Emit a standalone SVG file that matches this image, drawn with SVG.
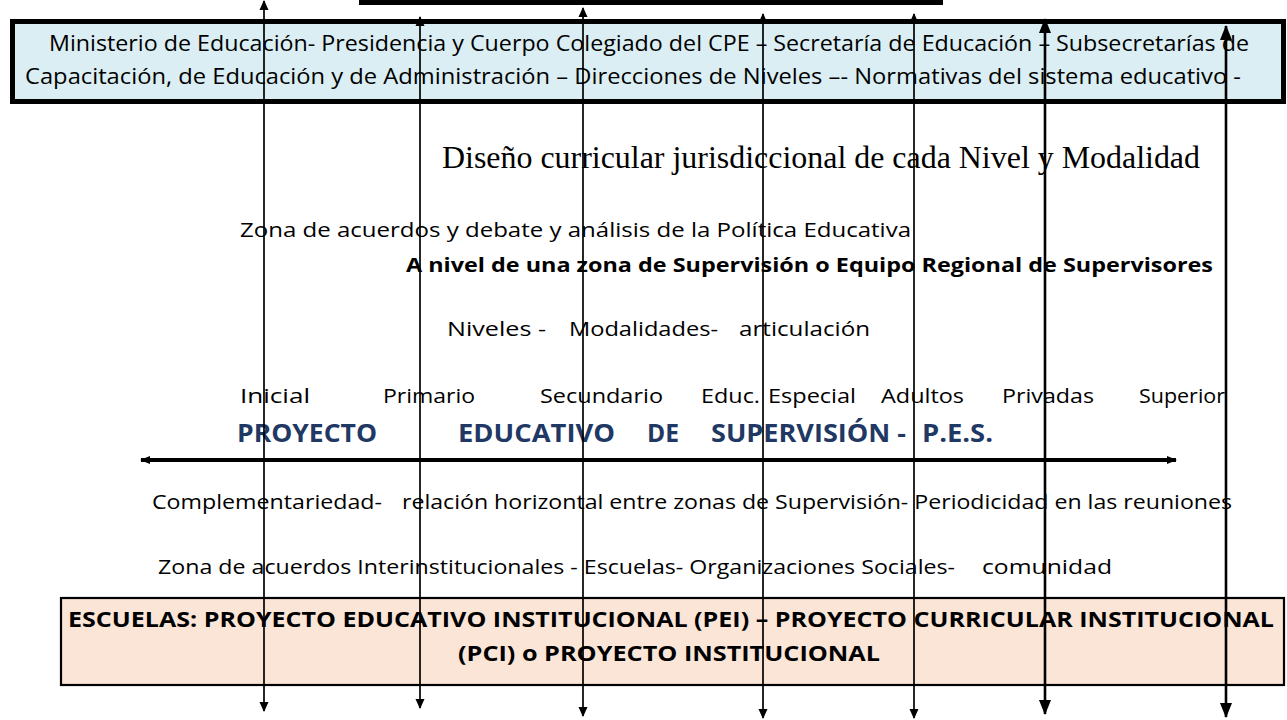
<svg xmlns="http://www.w3.org/2000/svg" width="1287" height="720" viewBox="0 0 1287 720">
<style>
.sans{font-family:"Open Sans","Noto Sans",sans-serif;fill:#000}
.comic{font-family:"Open Sans","Noto Sans",sans-serif;fill:#000;font-size:20px}
.ser{font-family:"Liberation Serif","Times New Roman",serif;fill:#000}
.pes{font-family:"Open Sans","Noto Sans",sans-serif;font-weight:bold;fill:#1F3864;font-size:25px}
.conn{stroke:#000;fill:none}
.thin{stroke-width:1.7}
.thick{stroke-width:2.6}
</style>
<defs>
<marker id="ah" markerUnits="userSpaceOnUse" markerWidth="10" markerHeight="12" refX="9" refY="4.5" orient="auto-start-reverse" viewBox="0 0 10 9">
<path d="M0,0 L10,4.5 L0,9 z" fill="#000"/>
</marker>
<marker id="ahb" markerUnits="userSpaceOnUse" markerWidth="15" markerHeight="13" refX="14" refY="6" orient="auto-start-reverse" viewBox="0 0 15 12">
<path d="M0,0 L15,6 L0,12 z" fill="#000"/>
</marker>
<marker id="ahh" markerUnits="userSpaceOnUse" markerWidth="10" markerHeight="10" refX="9" refY="4" orient="auto-start-reverse" viewBox="0 0 10 8">
<path d="M0,0 L10,4 L0,8 z" fill="#000"/>
</marker>
</defs>
<rect x="359" y="-3" width="584" height="8" fill="#000"/>
<g id="top-box">
<rect x="12.5" y="21.5" width="1271" height="80" fill="#DAEEF3" stroke="#000" stroke-width="5"/>
<text class="sans" x="49" y="51" font-size="21" textLength="1200" lengthAdjust="spacingAndGlyphs">Ministerio de Educación- Presidencia y Cuerpo Colegiado del CPE – Secretaría de Educación – Subsecretarías de</text>
<text class="sans" x="25" y="84" font-size="21" textLength="1216" lengthAdjust="spacingAndGlyphs">Capacitación, de Educación y de Administración – Direcciones de Niveles –- Normativas del sistema educativo -</text>
</g>
<g id="diseno">
<text class="ser" x="442" y="168" font-size="32" textLength="758" lengthAdjust="spacingAndGlyphs">Diseño curricular jurisdiccional de cada Nivel y Modalidad</text>
</g>
<g id="zona-politica">
<text class="comic" x="240" y="237" textLength="671" lengthAdjust="spacingAndGlyphs">Zona de acuerdos y debate y análisis de la Política Educativa</text>
</g>
<g id="nivel-zona">
<text class="comic" x="406" y="272" font-weight="bold" textLength="807" lengthAdjust="spacingAndGlyphs">A nivel de una zona de Supervisión o Equipo Regional de Supervisores</text>
</g>
<g id="niveles">
<text class="comic" x="447" y="336" textLength="99" lengthAdjust="spacingAndGlyphs">Niveles -</text>
<text class="comic" x="569" y="336" textLength="149" lengthAdjust="spacingAndGlyphs">Modalidades-</text>
<text class="comic" x="739" y="336" textLength="131" lengthAdjust="spacingAndGlyphs">articulación</text>
</g>
<g id="niveles-lista">
<text class="comic" x="240" y="403" textLength="70" lengthAdjust="spacingAndGlyphs">Inicial</text>
<text class="comic" x="383" y="403" textLength="92" lengthAdjust="spacingAndGlyphs">Primario</text>
<text class="comic" x="540" y="403" textLength="123" lengthAdjust="spacingAndGlyphs">Secundario</text>
<text class="comic" x="701" y="403" textLength="59" lengthAdjust="spacingAndGlyphs">Educ.</text>
<text class="comic" x="768" y="403" textLength="88" lengthAdjust="spacingAndGlyphs">Especial</text>
<text class="comic" x="881" y="403" textLength="83" lengthAdjust="spacingAndGlyphs">Adultos</text>
<text class="comic" x="1002" y="403" textLength="92" lengthAdjust="spacingAndGlyphs">Privadas</text>
<text class="comic" x="1139" y="403" font-size="17" textLength="86" lengthAdjust="spacingAndGlyphs">Superior</text>
</g>
<g id="pes">
<text class="pes" x="237" y="442" textLength="140" lengthAdjust="spacingAndGlyphs">PROYECTO</text>
<text class="pes" x="458" y="442" textLength="157" lengthAdjust="spacingAndGlyphs">EDUCATIVO</text>
<text class="pes" x="647" y="442" textLength="32" lengthAdjust="spacingAndGlyphs">DE</text>
<text class="pes" x="711" y="442" textLength="195" lengthAdjust="spacingAndGlyphs">SUPERVISIÓN -</text>
<text class="pes" x="922" y="442" textLength="71" lengthAdjust="spacingAndGlyphs">P.E.S.</text>
</g>
<g id="complementariedad">
<text class="sans" x="152" y="509" font-size="20" textLength="230" lengthAdjust="spacingAndGlyphs">Complementariedad-</text>
<text class="sans" x="402" y="509" font-size="20" textLength="830" lengthAdjust="spacingAndGlyphs">relación horizontal entre zonas de Supervisión- Periodicidad en las reuniones</text>
</g>
<g id="zona-inter">
<text class="sans" x="158" y="574" font-size="20" textLength="797" lengthAdjust="spacingAndGlyphs">Zona de acuerdos Interinstitucionales - Escuelas- Organizaciones Sociales-</text>
<text class="sans" x="982" y="574" font-size="20" textLength="130" lengthAdjust="spacingAndGlyphs">comunidad</text>
</g>
<g id="bottom-box">
<rect x="61" y="598" width="1223" height="87" fill="#FBE5D6" stroke="#000" stroke-width="2.2"/>
<text class="sans" x="68" y="627" font-size="22" font-weight="bold" textLength="1206" lengthAdjust="spacingAndGlyphs">ESCUELAS: PROYECTO EDUCATIVO INSTITUCIONAL (PEI) –  PROYECTO CURRICULAR INSTITUCIONAL</text>
<text class="sans" x="458" y="661" font-size="22" font-weight="bold" textLength="422" lengthAdjust="spacingAndGlyphs">(PCI) o PROYECTO INSTITUCIONAL</text>
</g>
<g id="connectors">
<line class="conn" x1="141" y1="460" x2="1176" y2="460" stroke-width="4" marker-start="url(#ahh)" marker-end="url(#ahh)"/>
<line class="conn thin" x1="264" y1="1" x2="264" y2="711" marker-start="url(#ah)" marker-end="url(#ah)"/>
<line class="conn thin" x1="420" y1="17" x2="420" y2="708" marker-start="url(#ah)" marker-end="url(#ah)"/>
<line class="conn thin" x1="583" y1="8" x2="583" y2="716" marker-start="url(#ah)" marker-end="url(#ah)"/>
<line class="conn thin" x1="763" y1="14" x2="763" y2="718" marker-start="url(#ah)" marker-end="url(#ah)"/>
<line class="conn thin" x1="914" y1="14" x2="914" y2="718" marker-start="url(#ah)" marker-end="url(#ah)"/>
<line class="conn thick" x1="1045" y1="19" x2="1045" y2="714" marker-start="url(#ahb)" marker-end="url(#ahb)"/>
<line class="conn thick" x1="1226" y1="26" x2="1226" y2="717" marker-start="url(#ahb)" marker-end="url(#ahb)"/>
</g>
</svg>
